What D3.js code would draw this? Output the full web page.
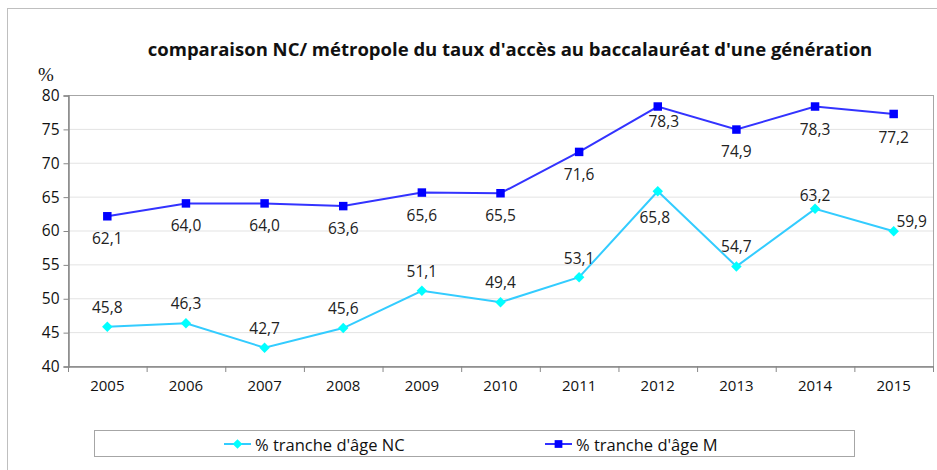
<!DOCTYPE html>
<html>
<head>
<meta charset="utf-8">
<script src="https://cdn.jsdelivr.net/npm/d3@7"></script>
<style>
  body { margin: 0; background: #fff; }
  svg { display: block; font-family: "Open Sans", sans-serif; }
  .label { font-size: 15.5px; fill: #222; }
</style>
</head>
<body>
<div id="chart"></div>
<script>

// chart data
var years = ["2005", "2006", "2007", "2008", "2009", "2010", "2011", "2012", "2013", "2014", "2015"];
var valuesNC = [45.8, 46.3, 42.7, 45.6, 51.1, 49.4, 53.1, 65.8, 54.7, 63.2, 59.9];
var valuesM = [62.1, 64.0, 64.0, 63.6, 65.6, 65.5, 71.6, 78.3, 74.9, 78.3, 77.2];
var yTicks = [40, 45, 50, 55, 60, 65, 70, 75, 80];
var seriesNames = ["% tranche d'âge NC", "% tranche d'âge M"];

// label placement (dx, dy from the point)
var offsetsNC = [[0,-20],[0,-20],[0,-20],[0,-20],[0,-20],[0,-20],[0,-19],[-3,26],[0,-20],[0,-14],[18,-10]];
var offsetsM = [[0,22],[0,22],[0,22],[0,22],[0,22],[0,22],[0,22],[6,14],[0,21],[0,22],[0,23]];

// init size
var width = 937;
var height = 470;
var plot = {left: 68, right: 933, top: 95, bottom: 366};

var svg = d3.select("#chart")
    .append("svg")
    .attr("width", width)
    .attr("height", height);

// outer frame
svg.append("rect")
    .attr("x", 7.5)
    .attr("y", 8.5)
    .attr("width", 945)
    .attr("height", 470)
    .attr("fill", "none")
    .attr("stroke", "#bfbfbf");

// init scales
var x = d3.scaleBand()
    .domain(years)
    .range([plot.left, plot.right]);

var y = d3.scaleLinear()
    .domain([40, 80])
    .range([plot.bottom, plot.top]);

var cx = d => x(d) + x.bandwidth() / 2;

// title
svg.append("text")
    .attr("x", 510)
    .attr("y", 56)
    .attr("text-anchor", "middle")
    .style("font-size", "18.5px")
    .style("font-weight", "bold")
    .attr("fill", "#111")
    .text("comparaison NC/ métropole du taux d'accès au baccalauréat d'une génération");

svg.append("text")
    .attr("x", 46)
    .attr("y", 81)
    .attr("text-anchor", "middle")
    .style("font-family", "'Liberation Serif', 'DejaVu Serif', serif")
    .style("font-size", "19px")
    .attr("fill", "#111")
    .text("%");

// grid
svg.append("g")
    .selectAll("line")
    .data(yTicks.slice(1))
    .enter().append("line")
    .attr("x1", plot.left)
    .attr("x2", plot.right)
    .attr("y1", d => y(d) + 0.5)
    .attr("y2", d => y(d) + 0.5)
    .attr("stroke", "#e3e3e3");

// plot frame
svg.append("rect")
    .attr("x", plot.left + 0.5)
    .attr("y", plot.top + 0.5)
    .attr("width", plot.right - plot.left)
    .attr("height", plot.bottom - plot.top)
    .attr("fill", "none")
    .attr("stroke", "#a6a6a6");

// y axis
var yAxis = svg.append("g")
    .attr("transform", "translate(" + (plot.left + 0.5) + ",0.5)")
    .call(d3.axisLeft(y).tickValues(yTicks).tickSize(5).tickPadding(4));
yAxis.attr("font-family", "Open Sans").attr("font-size", 15.5);
yAxis.selectAll(".tick text").attr("fill", "#111");
yAxis.select(".domain").attr("stroke", "#888").attr("stroke-width", 1.5);
yAxis.selectAll(".tick line").attr("stroke", "#888");

// x axis
var xAxis = svg.append("g")
    .attr("transform", "translate(0," + (plot.bottom + 0.5) + ")")
    .call(d3.axisBottom(x).tickSize(0).tickPadding(14));
xAxis.attr("font-family", "Open Sans").attr("font-size", 15);
xAxis.selectAll(".tick text").attr("fill", "#111");
xAxis.select(".domain").attr("stroke", "#888").attr("stroke-width", 1.5);

svg.append("g")
    .selectAll("line")
    .data(years.concat(["end"]))
    .enter().append("line")
    .attr("x1", d => d == "end" ? plot.right + 0.5 : x(d) + 0.5)
    .attr("x2", d => d == "end" ? plot.right + 0.5 : x(d) + 0.5)
    .attr("y1", plot.bottom)
    .attr("y2", plot.bottom + 6)
    .attr("stroke", "#888");

// series
var line = d3.line()
    .x((d, i) => cx(years[i]))
    .y(d => y(d));

function drawSeries(values, lineColor, markerColor, symbol, size, offsets) {

    var g = svg.append("g");

    g.append("path")
        .datum(values)
        .attr("d", line)
        .attr("fill", "none")
        .attr("stroke", lineColor)
        .attr("stroke-width", 2);

    g.selectAll("path.marker")
        .data(values)
        .enter().append("path")
        .attr("class", "marker")
        .attr("d", d3.symbol().type(symbol).size(size))
        .attr("transform", (d, i) => "translate(" + cx(years[i]) + "," + y(d) + ")")
        .attr("fill", markerColor);

    g.selectAll("text")
        .data(values)
        .enter().append("text")
        .attr("class", "label")
        .attr("x", (d, i) => cx(years[i]) + offsets[i][0])
        .attr("y", (d, i) => y(d) + offsets[i][1])
        .attr("text-anchor", "middle")
        .attr("dominant-baseline", "central")
        .text(d => d.toFixed(1).replace(".", ","));
}

drawSeries(valuesNC, "#33ccff", "#00ffff", d3.symbolDiamond2, 70, offsetsNC);
drawSeries(valuesM, "#3333ff", "#0000ff", d3.symbolSquare, 72, offsetsM);

// legend
svg.append("rect")
    .attr("x", 94.5)
    .attr("y", 430.5)
    .attr("width", 760)
    .attr("height", 26)
    .attr("fill", "none")
    .attr("stroke", "#a6a6a6");

var legendItems = [
    {name: seriesNames[0], x: 224, lineColor: "#33ccff", markerColor: "#00ffff", symbol: d3.symbolDiamond2, size: 60},
    {name: seriesNames[1], x: 545, lineColor: "#3333ff", markerColor: "#0000ff", symbol: d3.symbolSquare, size: 60}
];

var legend = svg.append("g")
    .selectAll("g")
    .data(legendItems)
    .enter().append("g")
    .attr("transform", d => "translate(" + d.x + ",444)");

legend.append("line")
    .attr("x1", 0)
    .attr("x2", 27)
    .attr("stroke", d => d.lineColor)
    .attr("stroke-width", 2);

legend.append("path")
    .attr("d", d => d3.symbol().type(d.symbol).size(d.size)())
    .attr("transform", "translate(13.5,0)")
    .attr("fill", d => d.markerColor);

legend.append("text")
    .attr("x", 31)
    .attr("dominant-baseline", "central")
    .style("font-size", "16.5px")
    .attr("fill", "#111")
    .text(d => d.name);

</script>
</body>
</html>
